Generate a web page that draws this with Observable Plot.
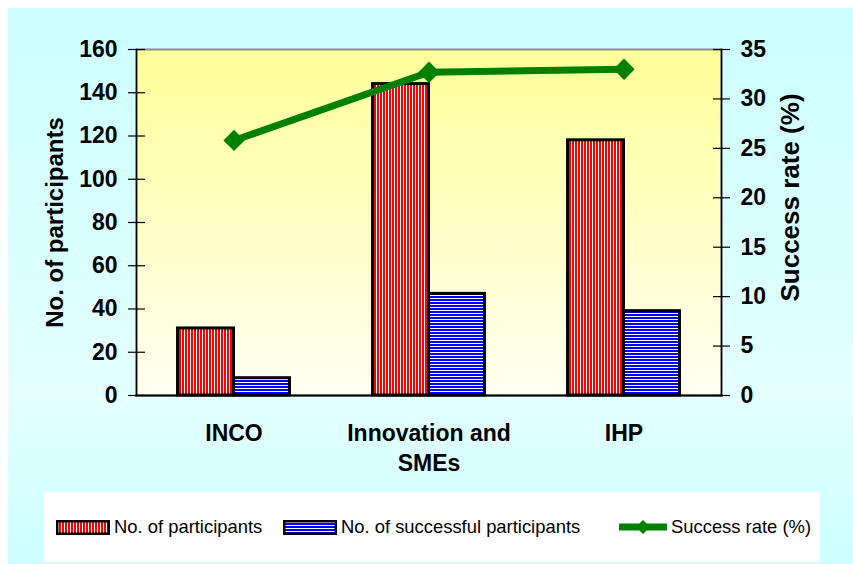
<!DOCTYPE html>
<html><head><meta charset="utf-8">
<script src="https://cdn.jsdelivr.net/npm/d3@7"></script>
<script src="https://cdn.jsdelivr.net/npm/@observablehq/plot@0.6"></script>
<style>
body{margin:0;background:#fff;font-family:Arial,"Liberation Sans",sans-serif;}
#wrap{position:absolute;left:8px;top:8px;width:845px;height:556px;background:linear-gradient(#CCFFFF,#E4FFFF 70%,#CCFFFF);overflow:hidden;}
#chart{position:absolute;left:0;top:0;}
#legend{position:absolute;left:36px;top:484px;width:776px;height:70px;background:#fff;}
.item{position:absolute;top:0;height:70px;display:flex;align-items:center;font-size:18.4px;color:#000;white-space:nowrap;}
.item svg{display:block;margin-right:4px;}
</style></head><body>
<div id="wrap"><div id="chart"></div><div id="legend"></div></div>
<script>
// ---- data ----
const categories = ["INCO", "Innovation and SMEs", "IHP"];
const categoryLabels = ["INCO", "Innovation and\nSMEs", "IHP"];
const participants = [31, 144, 118];
const successfulParticipants = [8, 47, 39];
const successRate = [25.8, 32.7, 33.0];
const leftTicks = [0, 20, 40, 60, 80, 100, 120, 140, 160];
const rightTicks = [0, 5, 10, 15, 20, 25, 30, 35];
const seriesNames = ["No. of participants", "No. of successful participants", "Success rate (%)"];
const axisTitles = ["No. of participants", "Success rate (%)"];

// ---- layout ----
const W = 845, H = 484, mL = 128, mR = 132, mT = 41, mB = 97;
const yMax = leftTicks[leftTicks.length - 1], rMax = rightTicks[rightTicks.length - 1];
const k = yMax / rMax;
const rows = categories.map((c, i) => ({cat: c, p: participants[i], s: successfulParticipants[i], r: successRate[i]}));
const labelOf = new Map(categories.map((c, i) => [c, categoryLabels[i]]));
const bw = (W - mL - mR) / categories.length;
const barW = bw * 0.287;
const font = "Arial, 'Liberation Sans', sans-serif";

const chart = Plot.plot({
  width: W, height: H,
  marginLeft: mL, marginRight: mR, marginTop: mT, marginBottom: mB,
  style: {background: "transparent", fontFamily: font, color: "#000", overflow: "visible"},
  x: {domain: categories, padding: 0, axis: null},
  y: {domain: [0, yMax], axis: null},
  marks: [
    Plot.frame({fill: "url(#plotBg)", stroke: "#8a8a8a", strokeWidth: 2}),
    Plot.barY(rows, {x: "cat", y: "p", fill: "url(#redStripes)", stroke: "#000", strokeWidth: 3,
      insetLeft: bw / 2 - barW, insetRight: bw / 2}),
    Plot.barY(rows, {x: "cat", y: "s", fill: "url(#blueStripes)", stroke: "#000", strokeWidth: 3,
      insetLeft: bw / 2, insetRight: bw / 2 - barW}),
    Plot.frame({anchor: "left", stroke: "#000", strokeWidth: 1.5}),
    Plot.frame({anchor: "right", stroke: "#000", strokeWidth: 1.5}),
    Plot.frame({anchor: "bottom", stroke: "#000", strokeWidth: 2}),
    Plot.axisY(leftTicks, {anchor: "left", tickSize: 17, insetLeft: 9, tickFormat: () => "", label: null, strokeWidth: 1.2}),
    Plot.axisY(leftTicks, {anchor: "left", tickSize: 0, tickPadding: 19, fontSize: 23, fontWeight: "bold", label: null}),
    Plot.axisY(rightTicks.map(v => v * k), {anchor: "right", tickSize: 17, insetRight: 9, tickFormat: () => "", label: null, strokeWidth: 1.2}),
    Plot.axisY(rightTicks.map(v => v * k), {anchor: "right", tickSize: 0, tickPadding: 19, tickFormat: v => String(Math.round(v / k)), fontSize: 23, fontWeight: "bold", label: null}),
    Plot.axisX({anchor: "bottom", tickSize: 0, tickPadding: 24, tickFormat: c => labelOf.get(c), fontSize: 23, fontWeight: "bold", lineHeight: 1.3, label: null}),
    Plot.line(rows, {x: "cat", y: d => d.r * k, stroke: "#008000", strokeWidth: 7, strokeLinejoin: "miter"}),
    Plot.dot(rows, {x: "cat", y: d => d.r * k, symbol: "square", rotate: 45, r: 8.5, fill: "#008000", stroke: "none"}),
    Plot.text([axisTitles[0]], {text: d => d, frameAnchor: "left", textAnchor: "middle", lineAnchor: "middle", dx: -81, rotate: -90, fontSize: 24, fontWeight: "bold"}),
    Plot.text([axisTitles[1]], {text: d => d, frameAnchor: "right", textAnchor: "middle", lineAnchor: "middle", dx: 69, dy: -25, rotate: -90, fontSize: 26, fontWeight: "bold"})
  ]
});

const defs = `
<linearGradient id="plotBg" x1="0" y1="0" x2="0" y2="1">
  <stop offset="0" stop-color="#FFFF99"/><stop offset="1" stop-color="#FFFFF2"/>
</linearGradient>
<pattern id="redStripes" patternUnits="userSpaceOnUse" width="3" height="10">
  <rect width="3" height="10" fill="#fff"/><rect width="2" height="10" fill="#FF0000"/>
</pattern>
<pattern id="blueStripes" patternUnits="userSpaceOnUse" width="10" height="3">
  <rect width="10" height="3" fill="#fff"/><rect width="10" height="2" fill="#0000FF"/>
</pattern>`;
const d = document.createElementNS("http://www.w3.org/2000/svg", "defs");
d.innerHTML = defs;
chart.insertBefore(d, chart.firstChild);
document.getElementById("chart").append(chart);

// ---- legend ----
const legend = document.getElementById("legend");
const swatchSvg = (kind) => {
  if (kind === 2) {
    return `<svg width="48" height="14"><line x1="0" y1="7" x2="48" y2="7" stroke="#008000" stroke-width="7"/><rect x="19" y="2" width="10" height="10" fill="#008000" transform="rotate(45 24 7)"/></svg>`;
  }
  const id = kind === 0 ? "lgRed" : "lgBlue";
  const pat = kind === 0
    ? `<pattern id="${id}" patternUnits="userSpaceOnUse" width="3" height="10"><rect width="3" height="10" fill="#fff"/><rect width="2" height="10" fill="#FF0000"/></pattern>`
    : `<pattern id="${id}" patternUnits="userSpaceOnUse" width="10" height="3"><rect width="10" height="3" fill="#fff"/><rect width="10" height="2" fill="#0000FF"/></pattern>`;
  return `<svg width="54" height="15"><defs>${pat}</defs><rect x="1.25" y="1.25" width="51.5" height="12.5" fill="url(#${id})" stroke="#000" stroke-width="2.5"/></svg>`;
};
const lefts = [12, 239, 575];
seriesNames.forEach((name, i) => {
  const it = document.createElement("div");
  it.className = "item";
  it.style.left = lefts[i] + "px";
  it.innerHTML = swatchSvg(i) + `<span>${name}</span>`;
  legend.append(it);
});
</script>
</body></html>
